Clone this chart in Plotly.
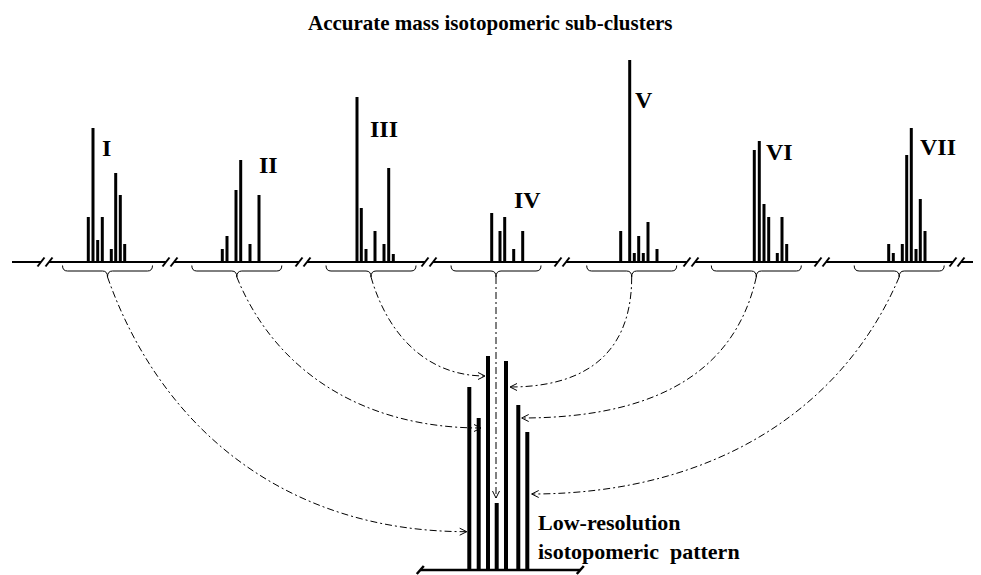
import plotly.graph_objects as go

# ---------------- data ----------------
cluster_names = ["I", "II", "III", "IV", "V", "VI", "VII"]
cluster_centers = [107.5, 236.8, 371.0, 496.0, 631.7, 756.3, 899.2]

mz_I = [88.3, 93.0, 97.7, 102.3, 111.3, 115.7, 120.3, 124.7]
int_I = [45, 134, 22, 45, 13, 89, 67, 18]
mz_II = [222.3, 227.0, 236.0, 240.7, 250.0, 259.0]
int_II = [13, 26, 72, 102, 18, 67]
mz_III = [357.0, 361.3, 366.0, 375.0, 384.0, 388.7, 393.3]
int_III = [165, 54, 13, 31, 18, 94, 8]
mz_IV = [491.7, 500.0, 504.7, 513.7, 522.7]
int_IV = [49, 31, 45, 13, 31]
mz_V = [620.7, 629.7, 634.3, 638.7, 643.3, 648.0, 657.0]
int_V = [31, 202, 9, 26, 9, 40, 13]
mz_VI = [754.3, 759.3, 764.0, 768.7, 777.3, 782.0, 786.7]
int_VI = [112, 121, 58, 45, 9, 45, 18]
mz_VII = [888.7, 893.3, 902.3, 906.7, 911.3, 916.0, 920.3, 925.0]
int_VII = [18, 9, 18, 107, 134, 13, 63, 31]

lowres_mz = [469.3, 478.7, 488.0, 496.7, 506.0, 518.3, 527.3]
lowres_int = [183, 152, 214, 67, 209, 165, 138]

title_text = "Accurate mass isotopomeric sub-clusters"
lowres_text = "Low-resolution<br>isotopomeric\u00a0 pattern"

# ---------------- layout constants ----------------
W, H = 981, 575
PAGE_PAD = 8  # default body margin of the html page
TOP_BASE = 262.0
LOW_BASE = 570.0
BRACE_HALF = 45.0
BRACE_TOP, BRACE_MID, BRACE_TIP = 265.5, 271.0, 277.0
break_centers = [45, 170, 303, 429, 562, 691, 822, 957]
label_pos = [(106, 147.5), (268, 165), (383.7, 128.7), (527.5, 200),
             (644, 100), (779, 152), (937.5, 147)]
# arrow arrival: side, level (y), tip offset from bar, bezier bend (p, q)
arrow_side = ["left", "left", "left", "top", "right", "right", "right"]
arrow_level = [531.7, 428.0, 376.0, None, 387.0, 418.0, 494.0]
arrow_off = [-2.6, 2.3, -3.0, -5.0, 4.0, 3.4, 4.4]
arrow_bend = [(0.15, 0.6), (0.15, 0.6), (0.15, 0.6), (0, 0),
              (0.0, 0.8), (0.1, 0.75), (0.15, 0.6)]
DASH = "7px,3px,2px,3px"
FONT = "Liberation Serif"

clusters_mz = [mz_I, mz_II, mz_III, mz_IV, mz_V, mz_VI, mz_VII]
clusters_int = [int_I, int_II, int_III, int_IV, int_V, int_VI, int_VII]

fig = go.Figure()


def sticks(xs, ints, base, width):
    X, Y = [], []
    for x, v in zip(xs, ints):
        X += [x, x, None]
        Y += [base, base - v, None]
    fig.add_trace(go.Scatter(x=X, y=Y, mode="lines", hoverinfo="skip",
                             line=dict(color="black", width=width),
                             showlegend=False))


for mzs, ints in zip(clusters_mz, clusters_int):
    sticks(mzs, ints, TOP_BASE, 3)
sticks(lowres_mz, lowres_int, LOW_BASE, 4)

shapes = []


def seg(x0, y0, x1, y1, w=2, dash=None):
    d = dict(type="line", xref="x", yref="y", x0=x0, y0=y0, x1=x1, y1=y1,
             line=dict(color="black", width=w))
    if dash:
        d["line"]["dash"] = dash
    shapes.append(d)


def path(p, w=1, dash=None):
    d = dict(type="path", xref="x", yref="y", path=p,
             line=dict(color="black", width=w))
    if dash:
        d["line"]["dash"] = dash
    shapes.append(d)


# top baseline with break marks
starts = [12] + [c + 4 for c in break_centers]
ends = [c - 4 for c in break_centers] + [W]
for s, e in zip(starts, ends):
    seg(s, TOP_BASE, e, TOP_BASE, 2)
for c in break_centers:
    for s in (c - 4, c + 4):
        seg(s - 3.5, TOP_BASE + 4.5, s + 3.5, TOP_BASE - 4.5, 2)

# braces
for xc in cluster_centers:
    x1, x2 = xc - BRACE_HALF, xc + BRACE_HALF
    p = (f"M {x1},{BRACE_TOP} Q {x1},{BRACE_MID} {x1+5},{BRACE_MID} "
         f"L {xc-5},{BRACE_MID} Q {xc},{BRACE_MID} {xc},{BRACE_TIP} "
         f"Q {xc},{BRACE_MID} {xc+5},{BRACE_MID} "
         f"L {x2-5},{BRACE_MID} Q {x2},{BRACE_MID} {x2},{BRACE_TOP}")
    path(p, 1)

# bottom baseline
lx0, lx1 = lowres_mz[0] - 49, lowres_mz[-1] + 53
seg(lx0, LOW_BASE, lx1, LOW_BASE, 2.5)
for s in (lx0, lx1):
    seg(s - 3.5, LOW_BASE + 4, s + 3.5, LOW_BASE - 4, 2.5)

# connecting arrows
for i, xc in enumerate(cluster_centers):
    bx = lowres_mz[i]
    side = arrow_side[i]
    x0, y0 = xc, BRACE_TIP
    if side == "top":
        tx, ty = xc, LOW_BASE - lowres_int[i] + arrow_off[i]
        seg(x0, y0, tx, ty, 1, DASH)
        path(f"M {tx-3.5},{ty-7} L {tx},{ty} L {tx+3.5},{ty-7}", 1)
        continue
    tx, ty = bx + arrow_off[i], arrow_level[i]
    dx, dy = tx - x0, ty - y0
    pp, qq = arrow_bend[i]
    c1 = (x0 + pp * dx, y0 + qq * dy)
    c2 = (tx - 0.5 * dx, ty)
    path(f"M {x0},{y0} C {c1[0]},{c1[1]} {c2[0]},{c2[1]} {tx},{ty}", 1, DASH)
    sgn = -1 if dx > 0 else 1
    path(f"M {tx+sgn*7},{ty-3.5} L {tx},{ty} L {tx+sgn*7},{ty+3.5}", 1)

annotations = [dict(x=490, y=23, text=title_text, showarrow=False,
                    font=dict(family=FONT, size=21, color="black", weight="bold"),
                    xanchor="center", yanchor="middle")]
for name, (lx, ly) in zip(cluster_names, label_pos):
    annotations.append(dict(x=lx, y=ly, text=name, showarrow=False,
                            font=dict(family=FONT, size=24, color="black", weight="bold"),
                            xanchor="center", yanchor="middle"))
annotations.append(dict(x=536, y=537, text=lowres_text, showarrow=False, align="left",
                        font=dict(family=FONT, size=22, color="black", weight="bold"),
                        xanchor="left", yanchor="middle"))

fig.update_layout(
    width=W - 2 * PAGE_PAD, height=H - PAGE_PAD,
    margin=dict(l=0, r=0, t=0, b=0),
    paper_bgcolor="white", plot_bgcolor="white",
    xaxis=dict(range=[PAGE_PAD, W - PAGE_PAD], visible=False, fixedrange=True),
    yaxis=dict(range=[H, PAGE_PAD], visible=False, fixedrange=True),
    shapes=shapes, annotations=annotations, showlegend=False,
)
fig.write_html("out.html")
